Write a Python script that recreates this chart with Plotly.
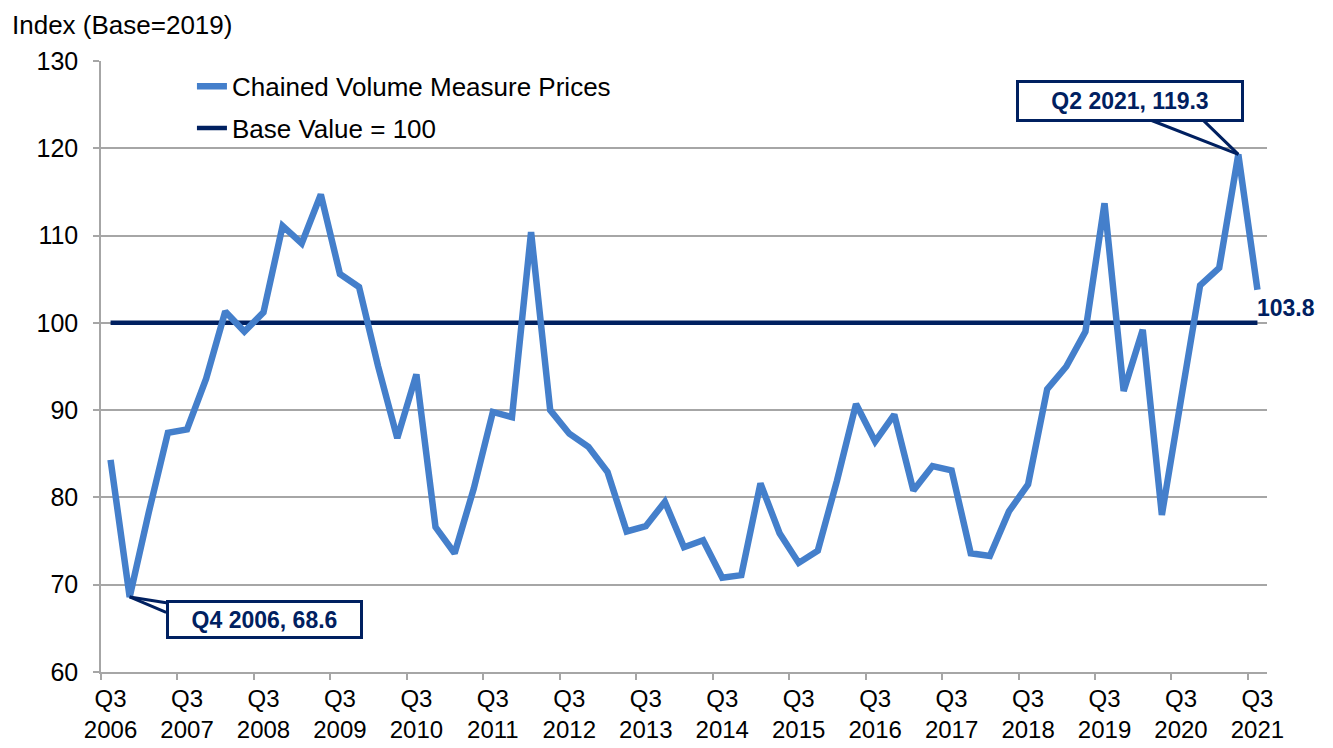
import plotly.graph_objects as go

# quarterly index, Q3 2006 .. Q3 2021
quarters = [f"Q{q} {y}" for y in range(2006, 2022) for q in (1, 2, 3, 4)][2:63]
cvm_prices = [
    84.3, 68.6, 78.3, 87.4, 87.8, 93.6, 101.3, 99.0, 101.2, 111.1,
    109.1, 114.7, 105.6, 104.1, 95.0, 86.8, 94.1, 76.6, 73.6, 81.0,
    89.8, 89.2, 110.4, 90.0, 87.3, 85.8, 82.9, 76.1, 76.7, 79.5,
    74.3, 75.1, 70.8, 71.1, 81.6, 75.9, 72.5, 73.9, 81.9, 90.7,
    86.4, 89.5, 80.8, 83.6, 83.1, 73.6, 73.3, 78.4, 81.5, 92.4,
    95.0, 99.0, 113.7, 92.2, 99.2, 78.0, 91.2, 104.3, 106.3, 119.3,
    103.8,
]
base_value = [100] * len(quarters)

tick_pos = list(range(0, len(quarters), 4))
tick_text = [f"Q3<br>{y}" for y in range(2006, 2022)]

x = list(range(len(quarters)))
blue = "#447FCB"
navy = "#002060"
grey = "#A6A6A6"
FONT = "Liberation Sans"

fig = go.Figure()
fig.add_trace(go.Scatter(
    x=x, y=base_value, mode="lines", name="Base Value = 100",
    line=dict(color=navy, width=4.5), legendrank=2, legendgroup="b",
))
fig.add_trace(go.Scatter(
    x=x, y=cvm_prices, mode="lines", name="Chained Volume Measure Prices",
    line=dict(color=blue, width=6.5), legendrank=1, legendgroup="a", text=quarters,
))

lo = cvm_prices.index(min(cvm_prices))
hi = cvm_prices.index(max(cvm_prices))
note_font = dict(family=FONT, size=23, color=navy)


def callout(i, label, dx, dy, w, h, tails):
    # callout wedge drawn as two lines from the box to the point
    for tx, ty in tails:
        fig.add_annotation(
            x=i, y=cvm_prices[i], text="", showarrow=True, arrowhead=0,
            arrowwidth=3, arrowcolor=navy, standoff=0, ax=tx, ay=ty,
        )
    fig.add_annotation(
        x=i, y=cvm_prices[i], text=f"<b>{label}</b>", showarrow=False,
        xshift=dx, yshift=-dy, bgcolor="white", bordercolor=navy, borderwidth=3,
        borderpad=1, width=w, height=h, font=note_font,
    )


callout(lo, f"{quarters[lo]}, {cvm_prices[lo]}", 135, 23, 189, 31,
        [(38, 6), (38, 16)])
callout(hi, f"{quarters[hi]}, {cvm_prices[hi]}", -108, -53, 220, 34,
        [(-92, -36), (-37, -36)])

fig.add_annotation(
    x=x[-1], y=cvm_prices[-1], text=f"<b>{cvm_prices[-1]}</b>",
    showarrow=False, xanchor="left", yanchor="top", xshift=-2, yshift=-3,
    font=note_font,
)
fig.add_annotation(
    xref="paper", yref="paper", x=-0.078, y=1.059, xanchor="left", yanchor="middle",
    text="Index (Base=2019)", showarrow=False,
    font=dict(family=FONT, size=26, color="black"),
)

# page body adds an 8px offset, margins compensate for it
fig.update_layout(
    width=1333, height=748,
    margin=dict(l=93, r=74, t=53, b=84),
    paper_bgcolor="white", plot_bgcolor="white",
    font=dict(family=FONT, size=24, color="black"),
    legend=dict(
        x=0.078, y=0.997, xanchor="left", yanchor="top", traceorder="grouped",
        bgcolor="rgba(0,0,0,0)", font=dict(size=26), tracegroupgap=5,
    ),
    xaxis=dict(
        range=[-0.5, len(quarters) - 0.5],
        tickmode="array", tickvals=tick_pos, ticktext=tick_text,
        ticks="", showgrid=False, zeroline=False, ticklabelstandoff=4,
        showline=True, linecolor=grey, linewidth=1.5,
        tickfont=dict(size=24),
        minor=dict(tickmode="linear", tick0=-0.5, dtick=4, ticks="outside",
                   ticklen=6, tickwidth=1.5, tickcolor=grey, showgrid=False),
    ),
    yaxis=dict(
        range=[60, 130], dtick=10, showgrid=True, gridcolor=grey, gridwidth=1.5,
        zeroline=False, showline=True, linecolor=grey, linewidth=1.5,
        ticks="outside", ticklen=6, tickwidth=1.5, tickcolor=grey,
        ticklabelstandoff=10, tickfont=dict(size=25),
    ),
)

fig.write_html("out.html")
